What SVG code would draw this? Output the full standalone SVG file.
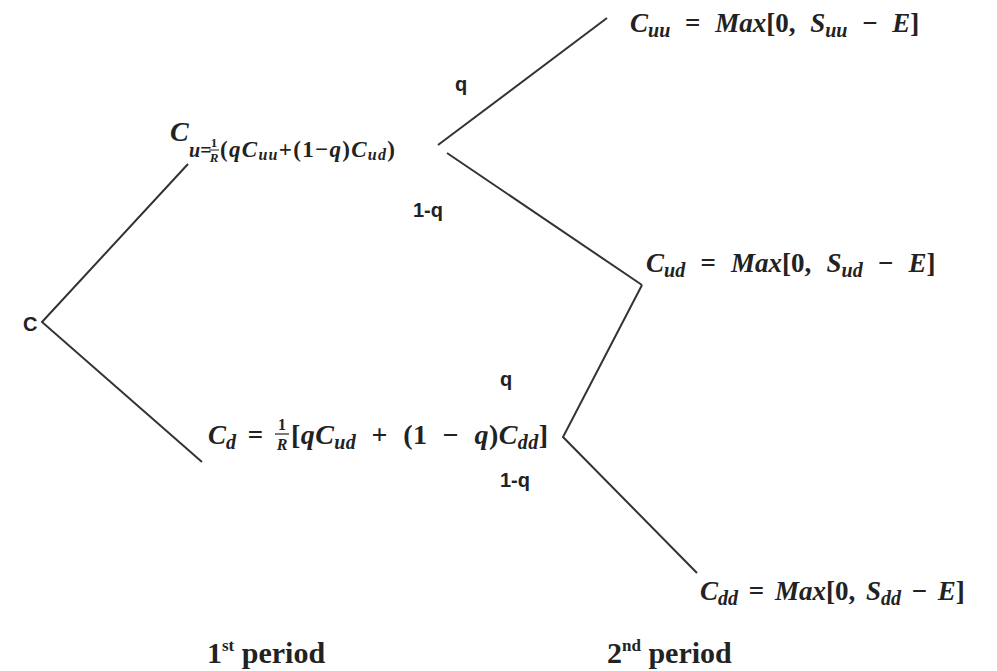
<svg xmlns="http://www.w3.org/2000/svg" width="997" height="671" viewBox="0 0 997 671">
<style>
.m{font-family:"Liberation Serif",serif;font-weight:bold;font-style:italic;font-size:27px;fill:#222;word-spacing:5px}
.n{font-style:normal}
.s{font-size:20px}
.f{font-family:"Liberation Serif",serif;font-weight:bold;font-size:13px;fill:#222;text-anchor:middle}
.fi{font-style:italic}
.lab{font-family:"Liberation Sans",Arial,sans-serif;font-weight:bold;font-size:20px;fill:#222}
.per{font-family:"Liberation Serif",serif;font-weight:bold;font-size:30px;fill:#222}
.ln{stroke:#333;stroke-width:2;fill:none}
</style>
<rect width="997" height="671" fill="#fff"/>
<g id="connectors">
<polyline class="ln" points="188,164 42,322 202,462"/>
<line class="ln" x1="438" y1="145" x2="607" y2="18"/>
<line class="ln" x1="447" y1="153" x2="642" y2="285"/>
<polyline class="ln" points="642,285 563,437 697,573"/>
</g>
<g id="labels">
<text class="lab" x="455" y="91">q</text>
<text class="lab" x="413" y="217">1-q</text>
<text class="lab" x="500" y="386">q</text>
<text class="lab" x="500" y="487">1-q</text>
</g>
<g id="node-C"><text class="lab" x="23" y="331">C</text></g>
<g id="node-Cu">
<text class="m" x="170" y="141" style="font-size:28px">C</text>
<text class="m" style="font-size:20px" x="189" y="157">u<tspan class="n">=</tspan></text>
<text class="f" x="214" y="147">1</text>
<line x1="209" y1="150" x2="219" y2="150" stroke="#222" stroke-width="1"/>
<text class="f fi" x="214" y="162">R</text>
<text class="m" style="font-size:23px;letter-spacing:1.3px" x="220" y="157"><tspan class="n">(</tspan>qC<tspan style="font-size:16px" dy="3">uu</tspan><tspan class="n" dy="-3">+(1−</tspan>q<tspan class="n">)</tspan>C<tspan style="font-size:16px" dy="3">ud</tspan><tspan class="n" dy="-3">)</tspan></text>
</g>
<g id="node-Cuu">
<text class="m" x="630" y="32" style="word-spacing:8px">C<tspan class="s" dy="5">uu</tspan><tspan dy="-5" class="n"> = </tspan>Max<tspan class="n">[0, </tspan>S<tspan class="s" dy="5">uu</tspan><tspan dy="-5" class="n"> − </tspan>E<tspan class="n">]</tspan></text>
</g>
<g id="node-Cud">
<text class="m" x="646" y="272" style="word-spacing:8.5px">C<tspan class="s" dy="5">ud</tspan><tspan dy="-5" class="n"> = </tspan>Max<tspan class="n">[0, </tspan>S<tspan class="s" dy="5">ud</tspan><tspan dy="-5" class="n"> − </tspan>E<tspan class="n">]</tspan></text>
</g>
<g id="node-Cd">
<text class="m" x="208" y="444">C<tspan class="s" dy="5">d</tspan><tspan dy="-5" class="n"> =</tspan></text>
<text class="f" x="282" y="430" style="font-size:16px">1</text>
<line x1="275" y1="434" x2="289" y2="434" stroke="#222" stroke-width="1.2"/>
<text class="f fi" x="282" y="450" style="font-size:16px">R</text>
<text class="m" x="291" y="444" style="font-size:28px;word-spacing:8px;letter-spacing:0.4px"><tspan class="n">[</tspan>qC<tspan class="s" dy="5">ud</tspan><tspan dy="-5" class="n"> + (1 − </tspan>q<tspan class="n">)</tspan>C<tspan class="s" dy="5">dd</tspan><tspan dy="-5" class="n">]</tspan></text>
</g>
<g id="node-Cdd">
<text class="m" x="700" y="600" style="word-spacing:4px">C<tspan class="s" dy="5">dd</tspan><tspan dy="-5" class="n"> = </tspan>Max<tspan class="n">[0, </tspan>S<tspan class="s" dy="5">dd</tspan><tspan dy="-5" class="n"> − </tspan>E<tspan class="n">]</tspan></text>
</g>
<g id="periods">
<text class="per" x="207" y="663">1<tspan style="font-size:17px" dy="-12">st</tspan><tspan dy="12"> period</tspan></text>
<text class="per" x="607" y="663">2<tspan style="font-size:17px" dy="-12">nd</tspan><tspan dy="12"> period</tspan></text>
</g>
</svg>
